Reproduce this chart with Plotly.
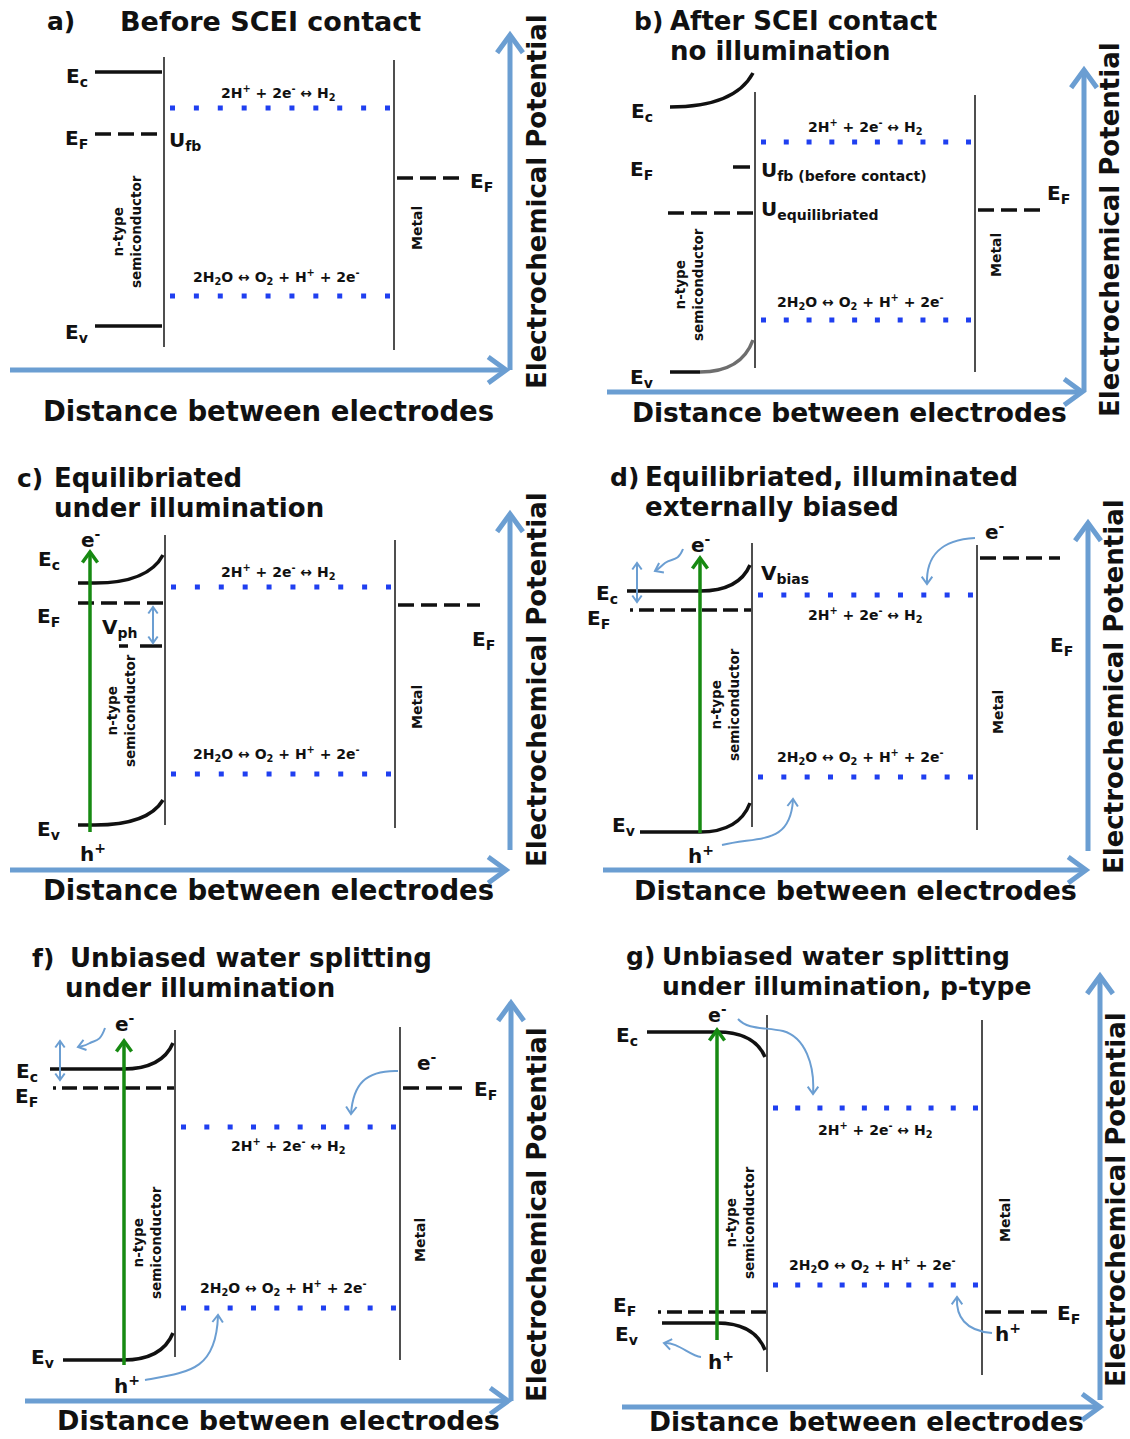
import math
import plotly.graph_objects as go

W, H = 1130, 1439
FONT = "DejaVu Sans"
INK = "#111111"
AXIS_BLUE = "#6b9ed2"
DOT_BLUE = "#1f3ff0"
GREEN = "#178a12"
WALL = "#3c3c3c"

# ---- panel texts -------------------------------------------------------
PANEL_TAGS = ["a)", "b)", "c)", "d)", "f)", "g)"]
TITLE_LINE1 = ["Before SCEI contact", "After SCEI contact", "Equilibriated",
               "Equilibriated, illuminated", "Unbiased water splitting",
               "Unbiased water splitting"]
TITLE_LINE2 = ["", "no illumination", "under illumination", "externally biased",
               "under illumination", "under illumination, p-type"]
H2_TEXT = "2H<sup>+</sup> + 2e<sup>-</sup> ↔ H<sub>2</sub>"
O2_TEXT = "2H<sub>2</sub>O ↔ O<sub>2</sub> + H<sup>+</sup> + 2e<sup>-</sup>"
X_TITLE = "Distance between electrodes"
Y_TITLE = "Electrochemical Potential"

# ---- energy levels (page units, y grows downward) ----------------------
EC_BULK = [72, 107, 583, 591, 1069, 1032]
EC_SURFACE = [72, 73, 555, 565, 1043, 1057]
EV_BULK = [326, 372, 825, 832, 1360, 1323]
EV_SURFACE = [326, 340, 800, 803, 1333, 1350]
EF_SC = [134, 213, 603, 610, 1088, 1312]
EF_METAL = [178, 210, 605, 558, 1088, 1312]
H2_LEVEL = [108, 142, 587, 595, 1127, 1108]
O2_LEVEL = [296, 320, 774, 777, 1308, 1285]

# ---- electrode geometry -------------------------------------------------
SC_X = [164, 755, 165, 752, 175, 767]
SC_TOP = [57, 92, 535, 543, 1030, 1015]
SC_BOTTOM = [347, 368, 825, 827, 1357, 1372]
METAL_X = [394, 975, 395, 977, 400, 982]
METAL_TOP = [60, 95, 540, 545, 1027, 1020]
METAL_BOTTOM = [350, 372, 828, 830, 1360, 1375]
EC_START = [95, 670, 78, 627, 50, 647]
EV_START = [95, 670, 78, 640, 63, 662]
BEND_START = [164, 670, 95, 700, 123, 717]
EF_START = [95, 668, 78, 630, 53, 658]
EF_METAL_END = [462, 1040, 480, 1060, 462, 1048]

# ---- axes arrows -------------------------------------------------------
XAXIS_Y = [370, 392, 870, 870, 1401, 1407]
XAXIS_X0 = [10, 607, 10, 603, 25, 622]
XAXIS_X1 = [506, 1082, 506, 1086, 508, 1100]
YAXIS_X = [510, 1084, 510, 1088, 511, 1100]
YAXIS_Y0 = [370, 392, 850, 851, 1401, 1400]
YAXIS_Y1 = [35, 70, 514, 523, 1003, 976]

# ---- text placement ----------------------------------------------------
TAG_X = [45, 632, 15, 608, 30, 624]
TITLE_X = [118, 668, 52, 643, 68, 660]
TITLE2_X = [118, 668, 52, 643, 63, 660]
TITLE_Y = [21, 21, 478, 477, 958, 956]
TITLE_SIZE = [27, 26, 26, 26, 26, 25]
XT_CENTER = [268, 849, 268, 855, 278, 866]
XT_Y = [411, 412, 890, 890, 1420, 1421]
XT_SIZE = [27.5, 26.5, 27.5, 27, 27, 26.5]
YT_X = [537, 1110, 537, 1114, 537, 1116]
YT_CENTER = [202, 230, 680, 687, 1215, 1200]
EC_LABEL = [(90, 77), (655, 112), (62, 560), (620, 594), (40, 1072), (640, 1036)]
EF_LABEL = [(90, 139), (655, 170), (62, 617), (612, 619), (40, 1097), (638, 1306)]
EV_LABEL = [(90, 333), (655, 378), (62, 830), (637, 826), (56, 1358), (640, 1335)]
EFM_LABEL = [(468, 182), (1045, 194), (470, 640), (1048, 646), (472, 1090), (1055, 1314)]
H2_LABEL = [(278, 93), (865, 127), (278, 572), (865, 615), (288, 1146), (875, 1130)]
O2_LABEL = [(276, 277), (860, 302), (276, 754), (860, 757), (283, 1288), (872, 1265)]
NTYPE_CENTER = [(127, 232), (689, 285), (121, 711), (725, 705), (147, 1243), (740, 1223)]
METAL_CENTER = [(417, 228), (996, 255), (417, 707), (998, 712), (420, 1240), (1005, 1220)]

shapes = []
annotations = []


def line(x0, y0, x1, y1, color=INK, width=3.5, dash=None):
    ln = dict(color=color, width=width)
    if dash:
        ln["dash"] = dash
    shapes.append(dict(type="line", xref="x", yref="y", x0=x0, y0=y0,
                       x1=x1, y1=y1, line=ln, layer="above"))


def path(d, color=INK, width=3.5):
    shapes.append(dict(type="path", xref="x", yref="y", path=d,
                       line=dict(color=color, width=width), layer="above"))


def head(tx, ty, dx, dy, size, color, width, half=36):
    n = math.hypot(dx, dy)
    ux, uy = dx / n, dy / n
    pts = []
    for s in (1, -1):
        a = math.radians(half) * s
        rx = ux * math.cos(a) - uy * math.sin(a)
        ry = ux * math.sin(a) + uy * math.cos(a)
        pts.append((tx - size * rx, ty - size * ry))
    path(f"M {pts[0][0]:.1f},{pts[0][1]:.1f} L {tx},{ty} L {pts[1][0]:.1f},{pts[1][1]:.1f}",
         color, width)


def arrow(x0, y0, x1, y1, color, width, size, both=False):
    line(x0, y0, x1, y1, color, width)
    head(x1, y1, x1 - x0, y1 - y0, size, color, width)
    if both:
        head(x0, y0, x0 - x1, y0 - y1, size, color, width)


def curved_arrow(d, tip, direction, color=AXIS_BLUE, width=2, size=9):
    path(d, color, width)
    head(tip[0], tip[1], direction[0], direction[1], size, color, width)


def text(x, y, s, size, xanchor="center", yanchor="middle", angle=0, color=INK):
    annotations.append(dict(x=x, y=y, xref="x", yref="y", text=s, showarrow=False,
                            xanchor=xanchor, yanchor=yanchor, textangle=angle,
                            font=dict(family=FONT, size=size, color=color, weight="bold")))


def band(x0, xb, x1, y0, y1, color=INK, width=3.5):
    if y0 == y1:
        line(x0, y0, x1, y1, color, width)
        return
    cx = xb + 0.78 * (x1 - xb)
    path(f"M {x0},{y0} L {xb},{y0} Q {cx},{y0} {x1},{y1}", color, width)


def dotted(x0, x1, y):
    period = (x1 - x0 - 5) / 9
    line(x0, y, x1, y, DOT_BLUE, 5, f"5px,{period - 5:.2f}px")


for i in range(6):
    sc, mx = SC_X[i], METAL_X[i]
    # electrode walls
    line(sc, SC_TOP[i], sc, SC_BOTTOM[i], WALL, 1.8)
    line(mx, METAL_TOP[i], mx, METAL_BOTTOM[i], WALL, 1.8)
    # redox levels
    dotted(sc + 6, mx - 4, H2_LEVEL[i])
    dotted(sc + 6, mx - 4, O2_LEVEL[i])
    # bands
    band(EC_START[i], BEND_START[i], sc - 2, EC_BULK[i], EC_SURFACE[i])
    if i == 1:
        line(EV_START[i], EV_BULK[i], 700, EV_BULK[i], INK, 3.5)
        band(700, 700, sc - 2, EV_BULK[i], EV_SURFACE[i], "#6e6e6e", 3.5)
    else:
        band(EV_START[i], BEND_START[i], sc - 2, EV_BULK[i], EV_SURFACE[i])
    # Fermi levels
    if i in (3, 4, 5):
        ef_dash = "3px,6px,15px,6px,15px,6px,15px,6px,15px,6px,15px,6px,15px,6px"
    else:
        ef_dash = "16px,7px"
    line(EF_START[i], EF_SC[i], sc - 1, EF_SC[i], INK, 3.5, ef_dash)
    line(mx + 3, EF_METAL[i], EF_METAL_END[i], EF_METAL[i], INK, 3.5, "16px,7px")
    # axes
    arrow(XAXIS_X0[i], XAXIS_Y[i], XAXIS_X1[i], XAXIS_Y[i], AXIS_BLUE, 5, 22)
    arrow(YAXIS_X[i], YAXIS_Y0[i], YAXIS_X[i], YAXIS_Y1[i], AXIS_BLUE, 5, 22)
    text(XT_CENTER[i], XT_Y[i], X_TITLE, XT_SIZE[i])
    text(YT_X[i], YT_CENTER[i], Y_TITLE, 26, angle=-90)
    # titles
    text(TAG_X[i], TITLE_Y[i], PANEL_TAGS[i], 25, xanchor="left")
    text(TITLE_X[i], TITLE_Y[i], TITLE_LINE1[i], TITLE_SIZE[i], xanchor="left")
    if TITLE_LINE2[i]:
        text(TITLE2_X[i], TITLE_Y[i] + 30, TITLE_LINE2[i], TITLE_SIZE[i], xanchor="left")
    # level labels
    text(*EC_LABEL[i], "E<sub>c</sub>", 20, xanchor="right")
    text(*EF_LABEL[i], "E<sub>F</sub>", 20, xanchor="right")
    text(*EV_LABEL[i], "E<sub>v</sub>", 20, xanchor="right")
    text(*EFM_LABEL[i], "E<sub>F</sub>", 20, xanchor="left")
    text(*H2_LABEL[i], H2_TEXT, 14)
    text(*O2_LABEL[i], O2_TEXT, 14)
    text(*NTYPE_CENTER[i], "n-type<br>semiconductor", 13.5, angle=-90)
    text(*METAL_CENTER[i], "Metal", 14, angle=-90)

# ---- panel a extras ----
text(167, 141, "U<sub>fb</sub>", 20, xanchor="left")

# ---- panel b extras ----
line(733, 167, 750, 167, INK, 3.5)
text(759, 171, "U<sub>fb (before contact)</sub>", 20, xanchor="left")
text(759, 210, "U<sub>equilibriated</sub>", 20, xanchor="left")

# ---- panel c extras ----
line(119, 646, 128, 646, INK, 3.5)
line(140, 646, 162, 646, INK, 3.5)
arrow(153, 607, 153, 643, AXIS_BLUE, 2, 8, both=True)
text(100, 628, "V<sub>ph</sub>", 20, xanchor="left")
arrow(90, 832, 90, 552, GREEN, 3.5, 13)
text(91, 539, "e<sup>-</sup>", 20)
text(93, 853, "h<sup>+</sup>", 20)

# ---- panel d extras ----
arrow(700, 833, 700, 558, GREEN, 3.5, 13)
text(701, 544, "e<sup>-</sup>", 20)
text(701, 855, "h<sup>+</sup>", 20)
text(759, 574, "V<sub>bias</sub>", 20, xanchor="left")
arrow(637, 563, 637, 602, AXIS_BLUE, 2, 8, both=True)
curved_arrow("M 683,549 C 678,562 672,558 665,563 C 661,566 659,569 655,571",
             (655, 571), (-1, 0.5))
curved_arrow("M 722,845 C 760,836 790,845 793,800", (793, 799), (0.05, -1))
text(995, 531, "e<sup>-</sup>", 20)
curved_arrow("M 975,538 C 940,540 926,556 927,584", (927, 584), (0, 1))

# ---- panel f extras ----
arrow(124, 1365, 124, 1041, GREEN, 3.5, 13)
text(125, 1023, "e<sup>-</sup>", 20)
text(127, 1385, "h<sup>+</sup>", 20)
arrow(60, 1041, 60, 1080, AXIS_BLUE, 2, 8, both=True)
curved_arrow("M 105,1028 C 100,1042 96,1040 90,1043 C 85,1046 82,1046 78,1047",
             (78, 1047), (-1, 0.3))
curved_arrow("M 145,1380 C 190,1372 216,1370 218,1316", (218, 1315), (0.05, -1))
text(415, 1062, "e<sup>-</sup>", 20, xanchor="left")
curved_arrow("M 398,1071 C 365,1070 353,1085 351,1114", (351, 1114), (-0.05, 1))

# ---- panel g extras ----
arrow(717, 1340, 717, 1030, GREEN, 3.5, 13)
text(717, 1014, "e<sup>-</sup>", 19)
text(721, 1361, "h<sup>+</sup>", 20)
curved_arrow("M 738,1019 C 748,1030 765,1027 783,1031 C 805,1037 815,1065 813,1094",
             (813, 1094), (0, 1))
curved_arrow("M 701,1357 C 690,1356 678,1342 664,1343", (664, 1343), (-1, -0.2))
text(1008, 1333, "h<sup>+</sup>", 20)
curved_arrow("M 992,1333 C 965,1331 956,1316 957,1298", (957, 1297), (0, -1))

fig = go.Figure()
fig.add_trace(go.Scatter(x=[0, W], y=[0, H], mode="markers",
                         marker=dict(opacity=0), hoverinfo="skip", showlegend=False))
fig.update_layout(
    width=W, height=H,
    margin=dict(l=0, r=0, t=0, b=0),
    paper_bgcolor="white", plot_bgcolor="white",
    xaxis=dict(range=[0, W], visible=False, fixedrange=True),
    yaxis=dict(range=[H, 0], visible=False, fixedrange=True),
    shapes=shapes, annotations=annotations, showlegend=False,
)
fig.write_html("out.html")
